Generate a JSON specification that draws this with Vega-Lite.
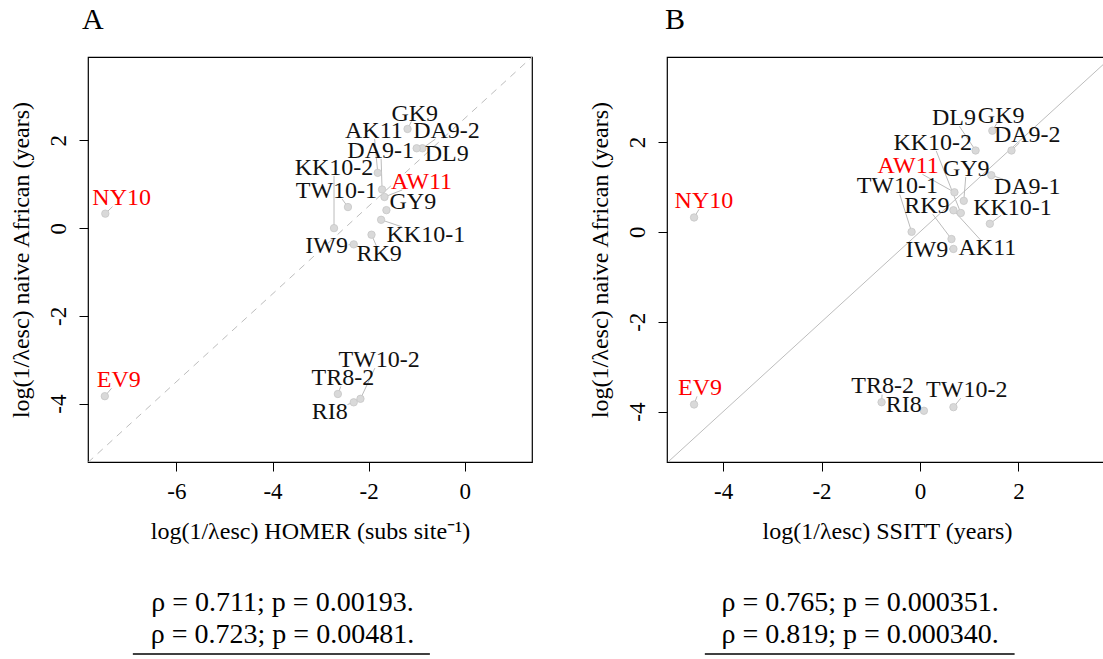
{
  "$schema": "https://vega.github.io/schema/vega-lite/v6.json",
  "padding": {"left": 8, "top": 4, "right": 0, "bottom": 0},
  "background": "white",
  "config": {
    "font": "Liberation Serif",
    "view": {"stroke": "black", "strokeWidth": 1.2},
    "axis": {"grid": false, "domain": false, "tickColor": "black", "tickSize": 9, "tickWidth": 1, "labelFontSize": 23, "labelColor": "black", "labelFont": "Liberation Serif", "titleFont": "Liberation Serif", "titleFontSize": 24, "titleFontWeight": "normal", "titleColor": "black"},
    "axisX": {"labelPadding": 9, "titlePadding": 16},
    "axisY": {"labelAngle": 270, "labelPadding": 9, "titlePadding": 14},
    "title": {"fontSize": 30, "fontWeight": "normal", "anchor": "start", "color": "black", "font": "Liberation Serif", "frame": "group"}
  },
  "datasets": {
    "A": [
      {"name": "NY10", "hl": "yes", "x": -7.48, "y": 0.33, "lx": -7.14, "ly": 0.69, "ex": -7.33, "ey": 0.49},
      {"name": "EV9", "hl": "yes", "x": -7.49, "y": -3.83, "lx": -7.2, "ly": -3.47, "ex": -7.35, "ey": -3.65},
      {"name": "GK9", "hl": "no", "x": -1.19, "y": 2.26, "lx": -1.04, "ly": 2.61, "ex": -1.11, "ey": 2.43},
      {"name": "DA9-2", "hl": "no", "x": -0.88, "y": 1.82, "lx": -0.38, "ly": 2.21, "ex": -0.61, "ey": 2.03},
      {"name": "DL9", "hl": "no", "x": -1.0, "y": 1.82, "lx": -0.375, "ly": 1.68, "ex": -0.83, "ey": 1.78},
      {"name": "DA9-1", "hl": "no", "x": -1.72, "y": 0.88, "lx": -1.75, "ly": 1.76, "ex": -1.74, "ey": 1.58},
      {"name": "AK11", "hl": "no", "x": -1.81, "y": 1.26, "lx": -1.89, "ly": 2.21, "ex": -1.875, "ey": 2.03},
      {"name": "AW11", "hl": "yes", "x": -1.67, "y": 0.71, "lx": -0.9, "ly": 1.06, "ex": -1.3, "ey": 0.87},
      {"name": "GY9", "hl": "no", "x": -1.63, "y": 0.41, "lx": -1.08, "ly": 0.59, "ex": -1.58, "ey": 0.44},
      {"name": "KK10-2", "hl": "no", "x": -2.72, "y": 0.0, "lx": -2.72, "ly": 1.38, "ex": -2.72, "ey": 1.19},
      {"name": "TW10-1", "hl": "no", "x": -2.43, "y": 0.48, "lx": -2.67, "ly": 0.845, "ex": -2.55, "ey": 0.66},
      {"name": "KK10-1", "hl": "no", "x": -1.74, "y": 0.19, "lx": -0.81, "ly": -0.15, "ex": -1.31, "ey": 0.03},
      {"name": "RK9", "hl": "no", "x": -1.94, "y": -0.15, "lx": -1.78, "ly": -0.59, "ex": -1.84, "ey": -0.4},
      {"name": "IW9", "hl": "no", "x": -2.31, "y": -0.37, "lx": -2.875, "ly": -0.4, "ex": -2.42, "ey": -0.38},
      {"name": "TR8-2", "hl": "no", "x": -2.64, "y": -3.78, "lx": -2.535, "ly": -3.42, "ex": -2.58, "ey": -3.61},
      {"name": "RI8", "hl": "no", "x": -2.31, "y": -3.97, "lx": -2.81, "ly": -4.18, "ex": -2.44, "ey": -4.02},
      {"name": "TW10-2", "hl": "no", "x": -2.17, "y": -3.89, "lx": -1.78, "ly": -3.01, "ex": -1.87, "ey": -3.19}
    ],
    "B": [
      {"name": "NY10", "hl": "yes", "x": -4.59, "y": 0.32, "lx": -4.39, "ly": 0.68, "ex": -4.49, "ey": 0.5},
      {"name": "EV9", "hl": "yes", "x": -4.59, "y": -3.84, "lx": -4.47, "ly": -3.48, "ex": -4.53, "ey": -3.66},
      {"name": "GK9", "hl": "no", "x": 1.47, "y": 2.25, "lx": 1.65, "ly": 2.58, "ex": 1.56, "ey": 2.41},
      {"name": "DL9", "hl": "no", "x": 1.13, "y": 1.81, "lx": 0.69, "ly": 2.53, "ex": 0.8, "ey": 2.35},
      {"name": "DA9-2", "hl": "no", "x": 1.86, "y": 1.81, "lx": 2.18, "ly": 2.16, "ex": 2.02, "ey": 1.98},
      {"name": "DA9-1", "hl": "no", "x": 1.45, "y": 1.26, "lx": 2.18, "ly": 0.99, "ex": 1.69, "ey": 1.17},
      {"name": "KK10-1", "hl": "no", "x": 1.42, "y": 0.18, "lx": 1.88, "ly": 0.54, "ex": 1.65, "ey": 0.37},
      {"name": "KK10-2", "hl": "no", "x": 0.83, "y": 0.42, "lx": 0.26, "ly": 1.98, "ex": 0.33, "ey": 1.8},
      {"name": "AW11", "hl": "yes", "x": 0.7, "y": 0.88, "lx": -0.24, "ly": 1.46, "ex": 0.05, "ey": 1.28},
      {"name": "GY9", "hl": "no", "x": 0.89, "y": 0.69, "lx": 0.94, "ly": 1.4, "ex": 0.93, "ey": 1.22},
      {"name": "TW10-1", "hl": "no", "x": -0.17, "y": 0.0, "lx": -0.46, "ly": 1.01, "ex": -0.41, "ey": 0.83},
      {"name": "RK9", "hl": "no", "x": 0.64, "y": -0.16, "lx": 0.14, "ly": 0.57, "ex": 0.26, "ey": 0.39},
      {"name": "IW9", "hl": "no", "x": 0.68, "y": -0.38, "lx": 0.14, "ly": -0.4, "ex": 0.59, "ey": -0.38},
      {"name": "AK11", "hl": "no", "x": 0.68, "y": 0.48, "lx": 1.37, "ly": -0.36, "ex": 1.23, "ey": -0.18},
      {"name": "TR8-2", "hl": "no", "x": -0.78, "y": -3.79, "lx": -0.76, "ly": -3.44, "ex": -0.77, "ey": -3.62},
      {"name": "RI8", "hl": "no", "x": 0.08, "y": -3.98, "lx": -0.33, "ly": -3.85, "ex": 0.04, "ey": -3.96},
      {"name": "TW10-2", "hl": "no", "x": 0.68, "y": -3.9, "lx": 0.95, "ly": -3.52, "ex": 0.83, "ey": -3.7}
    ],
    "diagA": [{"x": -7.84, "y": -5.34, "x2": 1.4, "y2": 3.9}],
    "diagB": [{"x": -5.3, "y": -5.3, "x2": 4.0, "y2": 4.0}],
    "statsA": [
      {"text": "ρ = 0.711; p = 0.00193.", "pos": 0.438, "ypos": 0.786},
      {"text": "ρ = 0.723; p = 0.00481.", "pos": 0.438, "ypos": 0.329}
    ],
    "statsB": [
      {"text": "ρ = 0.765; p = 0.000351.", "pos": 0.439, "ypos": 0.786},
      {"text": "ρ = 0.819; p = 0.000340.", "pos": 0.439, "ypos": 0.329}
    ],
    "ulA": [{"x1": 0.101, "x2": 0.77, "y": 0.057}],
    "ulB": [{"x1": 0.086, "x2": 0.79, "y": 0.057}]
  },
  "spacing": 54,
  "hconcat": [
    {
      "bounds": "flush",
      "spacing": 126,
      "vconcat": [
        {
          "width": 444,
          "height": 405,
          "title": {"text": "A", "offset": 22, "dx": -6},
          "layer": [
            {
              "data": {"name": "diagA"},
              "mark": {"type": "rule", "color": "#bdbdbd", "strokeDash": [7, 6], "strokeWidth": 1, "clip": true},
              "encoding": {
                "x": {"field": "x", "type": "quantitative", "scale": {"domain": [-7.84, 1.4], "nice": false, "zero": false}, "axis": {"values": [-6, -4, -2, 0], "title": "log(1/λesc) HOMER (subs site⁻¹)", "labelExpr": "replace(datum.label, '−', '-')"}},
                "y": {"field": "y", "type": "quantitative", "scale": {"domain": [-5.33, 3.9], "nice": false, "zero": false}, "axis": {"values": [-4, -2, 0, 2], "title": "log(1/λesc) naive African (years)", "labelExpr": "replace(datum.label, '−', '-')"}},
                "x2": {"field": "x2"},
                "y2": {"field": "y2"}
              }
            },
            {
              "data": {"name": "A"},
              "mark": {"type": "rule", "color": "#b3b3b3", "strokeWidth": 0.9},
              "encoding": {
                "x": {"field": "x", "type": "quantitative"},
                "y": {"field": "y", "type": "quantitative"},
                "x2": {"field": "ex"},
                "y2": {"field": "ey"}
              }
            },
            {
              "data": {"name": "A"},
              "mark": {"type": "point", "shape": "circle", "filled": true, "size": 55, "color": "#d9d9d9", "stroke": "#c6c6c6", "strokeWidth": 0.8, "opacity": 1},
              "encoding": {
                "x": {"field": "x", "type": "quantitative"},
                "y": {"field": "y", "type": "quantitative"}
              }
            },
            {
              "data": {"name": "A"},
              "mark": {"type": "text", "fontSize": 24, "align": "center", "baseline": "middle"},
              "encoding": {
                "x": {"field": "lx", "type": "quantitative"},
                "y": {"field": "ly", "type": "quantitative"},
                "text": {"field": "name"},
                "color": {"field": "hl", "type": "nominal", "scale": {"domain": ["yes", "no"], "range": ["#ff0000", "#111111"]}, "legend": null}
              }
            }
          ]
        },
        {
          "width": 444,
          "height": 70,
          "view": {"stroke": null},
          "layer": [
            {
              "data": {"name": "statsA"},
              "mark": {"type": "text", "fontSize": 28, "align": "center", "baseline": "middle"},
              "encoding": {
                "x": {"field": "pos", "type": "quantitative", "scale": {"domain": [0, 1]}, "axis": null},
                "y": {"field": "ypos", "type": "quantitative", "scale": {"domain": [0, 1]}, "axis": null},
                "text": {"field": "text"}
              }
            },
            {
              "data": {"name": "ulA"},
              "mark": {"type": "rule", "strokeWidth": 1.5, "color": "black"},
              "encoding": {
                "x": {"field": "x1", "type": "quantitative"},
                "x2": {"field": "x2"},
                "y": {"field": "y", "type": "quantitative"}
              }
            }
          ]
        }
      ]
    },
    {
      "bounds": "flush",
      "spacing": 126,
      "vconcat": [
        {
          "width": 440,
          "height": 405,
          "title": {"text": "B", "offset": 22, "dx": -2},
          "layer": [
            {
              "data": {"name": "diagB"},
              "mark": {"type": "rule", "color": "#bdbdbd", "strokeWidth": 1, "clip": true},
              "encoding": {
                "x": {"field": "x", "type": "quantitative", "scale": {"domain": [-5.14, 3.8], "nice": false, "zero": false}, "axis": {"values": [-4, -2, 0, 2], "title": "log(1/λesc) SSITT (years)", "labelExpr": "replace(datum.label, '−', '-')"}},
                "y": {"field": "y", "type": "quantitative", "scale": {"domain": [-5.12, 3.89], "nice": false, "zero": false}, "axis": {"values": [-4, -2, 0, 2], "title": "log(1/λesc) naive African (years)", "labelExpr": "replace(datum.label, '−', '-')"}},
                "x2": {"field": "x2"},
                "y2": {"field": "y2"}
              }
            },
            {
              "data": {"name": "B"},
              "mark": {"type": "rule", "color": "#b3b3b3", "strokeWidth": 0.9},
              "encoding": {
                "x": {"field": "x", "type": "quantitative"},
                "y": {"field": "y", "type": "quantitative"},
                "x2": {"field": "ex"},
                "y2": {"field": "ey"}
              }
            },
            {
              "data": {"name": "B"},
              "mark": {"type": "point", "shape": "circle", "filled": true, "size": 55, "color": "#d9d9d9", "stroke": "#c6c6c6", "strokeWidth": 0.8, "opacity": 1},
              "encoding": {
                "x": {"field": "x", "type": "quantitative"},
                "y": {"field": "y", "type": "quantitative"}
              }
            },
            {
              "data": {"name": "B"},
              "mark": {"type": "text", "fontSize": 24, "align": "center", "baseline": "middle"},
              "encoding": {
                "x": {"field": "lx", "type": "quantitative"},
                "y": {"field": "ly", "type": "quantitative"},
                "text": {"field": "name"},
                "color": {"field": "hl", "type": "nominal", "scale": {"domain": ["yes", "no"], "range": ["#ff0000", "#111111"]}, "legend": null}
              }
            }
          ]
        },
        {
          "width": 440,
          "height": 70,
          "view": {"stroke": null},
          "layer": [
            {
              "data": {"name": "statsB"},
              "mark": {"type": "text", "fontSize": 28, "align": "center", "baseline": "middle"},
              "encoding": {
                "x": {"field": "pos", "type": "quantitative", "scale": {"domain": [0, 1]}, "axis": null},
                "y": {"field": "ypos", "type": "quantitative", "scale": {"domain": [0, 1]}, "axis": null},
                "text": {"field": "text"}
              }
            },
            {
              "data": {"name": "ulB"},
              "mark": {"type": "rule", "strokeWidth": 1.5, "color": "black"},
              "encoding": {
                "x": {"field": "x1", "type": "quantitative"},
                "x2": {"field": "x2"},
                "y": {"field": "y", "type": "quantitative"}
              }
            }
          ]
        }
      ]
    }
  ]
}
